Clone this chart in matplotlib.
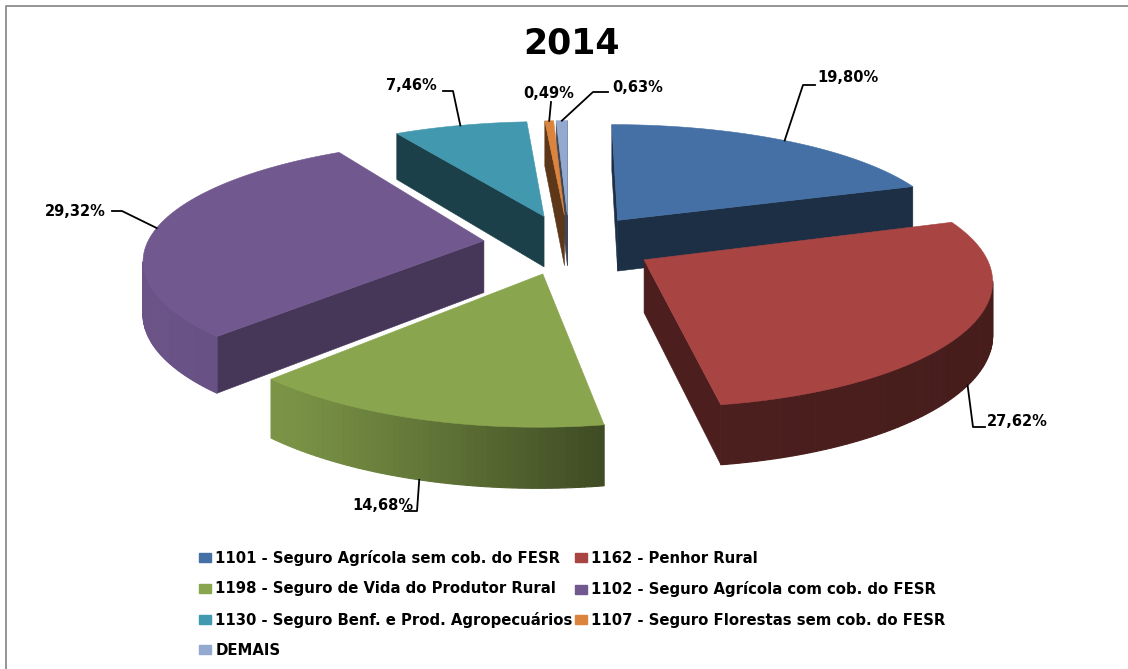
import numpy as np
from matplotlib import pyplot as plt
from matplotlib.patches import Patch, Polygon

# dados
labels = ["1101 - Seguro Agrícola sem cob. do FESR", "1162 - Penhor Rural",
          "1198 - Seguro de Vida do Produtor Rural", "1102 - Seguro Agrícola com cob. do FESR",
          "1130 - Seguro Benf. e Prod. Agropecuários", "1107 - Seguro Florestas sem cob. do FESR",
          "DEMAIS"]
values = [19.80, 27.62, 14.68, 29.32, 7.46, 0.49, 0.63]
colors = ["#4470A5", "#A84543", "#89A54E", "#71588F", "#4198AF", "#DB843D", "#93A9CF"]
title = "2014"

# perspectiva do bolo (pixels)
CX, CY = 569, 244
A, B = 337, 118
KX, KY, KD = 0.14, 0.16, 0.12
EXPLODE = 0.255
DEPTH = 52

# onde ficam os rotulos: texto, cotovelo da guia, usar borda de baixo
label_pos = [(817, 77), (987, 421), (352, 506), (45, 211), (386, 86), (523, 93), (612, 87)]
elbow_pos = [[(803, 85), (815, 85)], [(973, 427), (985, 427)], [(417, 511), (405, 511)],
             [(122, 211), (112, 211)], [(453, 91), (443, 91)], [(551, 102)], [(593, 92), (608, 92)]]
use_bottom = [False, True, True, False, False, False, False]
draw_order = [0, 6, 5, 4, 3, 1, 2]
cut_f = [0.42, 0.45, 0.42, 0.62, 0.42, 0.42, 0.42]


def project(u, v):
    return CX + A * u / (1 + KX * v), CY - B * v / (1 + KY * v)


def shade(color, f):
    rgb = np.array(plt.matplotlib.colors.to_rgb(color))
    return tuple(rgb * f)


def wall_factor(x):
    return np.interp(x, [140, 300, 450, 600, 1000], [0.95, 0.88, 0.68, 0.46, 0.42])


fig = plt.figure(figsize=(11.28, 6.69), dpi=100)
ax = fig.add_axes([0, 0, 1, 1])
ax.set_xlim(0, 1128)
ax.set_ylim(669, 0)
ax.axis("off")

# moldura, so topo e esquerda aparecem
ax.plot([5.5, 5.5, 1128], [669, 5.5, 5.5], color="#8c8c8c", lw=1.3)

edges = np.cumsum([0] + values) / 100.0 * 2 * np.pi
mids = (edges[:-1] + edges[1:]) / 2

for i in draw_order:
    du = EXPLODE * np.sin(mids[i])
    dv = EXPLODE * np.cos(mids[i])
    th = np.linspace(edges[i], edges[i + 1], max(int(values[i] * 4), 6))
    rim = np.array([project(du + np.sin(t), dv + np.cos(t)) for t in th])
    apex = np.array(project(du, dv))
    low = rim.copy()
    low[:, 1] += DEPTH / (1 + KD * (dv + np.cos(th)))
    apex_low = apex + [0, DEPTH / (1 + KD * dv)]

    # faces de corte
    for end, end_low, outward in [(rim[0], low[0], -1), (rim[-1], low[-1], 1)]:
        d = end - apex
        # normal para fora da fatia (y da tela cresce para baixo)
        n = np.array([-d[1], d[0]]) * outward
        if n[1] > 0:
            c = shade(colors[i], cut_f[i])
            ax.add_patch(Polygon([apex, end, end_low, apex_low], closed=True, fc=c, ec=c, lw=0.4))

    # parede externa, com sombra por x; so o que anda para a esquerda fica de frente
    for j in range(len(rim) - 1):
        if rim[j + 1][0] >= rim[j][0]:
            continue
        c = shade(colors[i], wall_factor((rim[j][0] + rim[j + 1][0]) / 2))
        ax.add_patch(Polygon([rim[j], rim[j + 1], low[j + 1], low[j]], closed=True,
                             fc=c, ec=c, lw=0.8))

    ax.add_patch(Polygon(np.vstack([apex, rim]), closed=True, fc=colors[i], ec=colors[i], lw=0.4))

    # guia e rotulo
    anchor = project(du + np.sin(mids[i]), dv + np.cos(mids[i]))
    if use_bottom[i]:
        anchor = (anchor[0], anchor[1] + DEPTH / (1 + KD * (dv + np.cos(mids[i]))))
    pts = [anchor] + elbow_pos[i]
    ax.plot([p[0] for p in pts], [p[1] for p in pts], color="black", lw=1.3, zorder=5)
    ax.text(label_pos[i][0], label_pos[i][1], ("%.2f%%" % values[i]).replace(".", ","),
            fontsize=10.5, fontweight="bold", va="center", ha="left", zorder=6)

ax.text(571, 43, title, fontsize=25, fontweight="bold", ha="center", va="center")

handles = [Patch(fc=c, ec=c, label=l) for c, l in zip(colors, labels)]
# preenche por coluna, entao reordena para ler por linha como no original
order = [0, 2, 4, 6, 1, 3, 5]
leg = ax.legend([handles[i] for i in order], [labels[i] for i in order], ncol=2, frameon=False,
                loc="upper left", bbox_to_anchor=(199, 550), bbox_transform=ax.transData,
                labelspacing=1.03, handlelength=0.8, handleheight=0.55,
                handletextpad=0.3, columnspacing=0.15, borderpad=0, borderaxespad=0,
                prop={"weight": "bold", "size": 10.7})

fig.savefig("out.png", dpi=100)
